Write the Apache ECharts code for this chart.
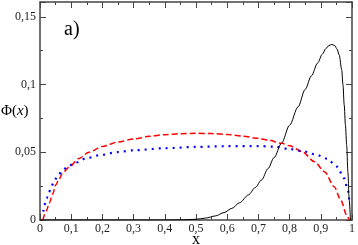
<!DOCTYPE html>
<html>
<head>
<meta charset="utf-8">
<script src="https://cdn.jsdelivr.net/npm/echarts@6/dist/echarts.min.js"></script>
<style>html,body{margin:0;padding:0;background:#fff;}#c{width:358px;height:245px;}</style>
</head>
<body>
<div id="c"></div>
<script>
var xTicks = [0, 0.1, 0.2, 0.3, 0.4, 0.5, 0.6, 0.7, 0.8, 0.9, 1];
var yTicks = [0, 0.05, 0.1, 0.15];

var redX = [0.009, 0.02, 0.03, 0.04, 0.051, 0.06, 0.072, 0.093, 0.125, 0.157, 0.2, 0.25, 0.3, 0.35, 0.4, 0.45, 0.5, 0.55, 0.6, 0.65, 0.7, 0.73, 0.775, 0.8, 0.84, 0.88, 0.912, 0.943, 0.964, 0.983, 0.991];
var redY = [0, 0.0066, 0.0125, 0.019, 0.026, 0.0298, 0.0345, 0.039, 0.0455, 0.050, 0.0543, 0.0576, 0.0598, 0.0618, 0.063, 0.0637, 0.064, 0.0638, 0.0632, 0.0619, 0.0603, 0.0591, 0.0566, 0.0548, 0.0505, 0.043, 0.0357, 0.0246, 0.0148, 0.0037, 0];

var blueX = [0.0105, 0.0137, 0.0213, 0.0286, 0.037, 0.0455, 0.058, 0.072, 0.09, 0.109, 0.146, 0.189, 0.25, 0.3, 0.4, 0.5, 0.6, 0.7, 0.75, 0.8, 0.839, 0.882, 0.92, 0.952, 0.975, 0.987, 0.991];
var blueY = [0.0061, 0.011, 0.016, 0.0205, 0.025, 0.029, 0.033, 0.0367, 0.0395, 0.0418, 0.0453, 0.0478, 0.0502, 0.0515, 0.053, 0.054, 0.0545, 0.0546, 0.0542, 0.0524, 0.051, 0.0485, 0.0453, 0.0394, 0.0308, 0.0214, 0.0153];

var blackX = [0, 0.4, 0.45, 0.5, 0.53, 0.562, 0.59, 0.615, 0.64, 0.668, 0.69, 0.71, 0.731, 0.75, 0.774, 0.8, 0.827, 0.85, 0.87, 0.89, 0.905, 0.917, 0.925, 0.935, 0.945, 0.952, 0.959, 0.967, 0.971, 0.975, 0.979, 0.983, 0.987, 0.991, 0.995];
var blackY = [0, 0, 0.0001, 0.0005, 0.0014, 0.003, 0.0055, 0.0086, 0.0128, 0.0185, 0.024, 0.0295, 0.038, 0.046, 0.0566, 0.070, 0.0835, 0.0965, 0.1065, 0.116, 0.1225, 0.1268, 0.1287, 0.1297, 0.1288, 0.1262, 0.1219, 0.111, 0.1, 0.085, 0.07, 0.055, 0.035, 0.015, 0];

function pairs(xs, ys) { return xs.map(function (x, i) { return [x, ys[i]]; }); }
function fmt(v) { return v === 0 ? '0' : String(+v.toFixed(3)).replace('.', ','); }

var FONT = 'Liberation Serif';
var AX = '#444';
function axisBase(extra) {
  var a = {
    axisLine: { show: true, onZero: false, lineStyle: { color: AX, width: 1.5 } },
    axisTick: { show: true, inside: true, length: 6, lineStyle: { color: AX, width: 1 } },
    minorTick: { show: true, splitNumber: 2, length: 3, lineStyle: { color: AX, width: 1 } },
    splitLine: { show: false },
    minorSplitLine: { show: false }
  };
  for (var k in extra) a[k] = extra[k];
  return a;
}

var chart = echarts.init(document.getElementById('c'), null, { renderer: 'canvas' });
chart.setOption({
  animation: false,
  backgroundColor: '#fff',
  grid: { left: 40, right: 3.5, top: 2, bottom: 25 },
  xAxis: [
    axisBase({ type: 'value', position: 'bottom', min: xTicks[0], max: xTicks[xTicks.length - 1], interval: 0.1,
      axisLabel: { show: true, margin: 3, fontFamily: FONT, fontSize: 12, color: '#222', formatter: fmt } }),
    axisBase({ type: 'value', position: 'top', min: 0, max: 1, interval: 0.1, axisLabel: { show: false } })
  ],
  yAxis: [
    axisBase({ type: 'value', position: 'left', min: yTicks[0], max: 0.161, interval: 0.05,
      axisLabel: { show: true, margin: 4, fontFamily: FONT, fontSize: 12, color: '#222', formatter: fmt, showMaxLabel: false } }),
    axisBase({ type: 'value', position: 'right', min: 0, max: 0.161, interval: 0.05, axisLabel: { show: false } })
  ],
  series: [
    { type: 'line', data: pairs(blackX, blackY), showSymbol: false, smooth: 0.3, smoothMonotone: 'x',
      lineStyle: { color: '#000', width: 1 }, z: 3 },
    { type: 'line', data: pairs(redX, redY), showSymbol: false, smooth: 0.3, smoothMonotone: 'x',
      lineStyle: { color: '#ff0000', width: 1.5, type: [6, 3] }, z: 2 },
    { type: 'line', data: pairs(blueX, blueY), showSymbol: false, smooth: 0.3, smoothMonotone: 'x',
      lineStyle: { color: '#0000ff', width: 2.2, type: [2, 5] }, z: 2 }
  ],
  graphic: [
    { type: 'text', left: 64, top: 20, style: { text: 'a)', font: '20px "Liberation Serif"', fill: '#000' } },
    { type: 'text', left: 1, top: 104, style: {
        text: '{n|Φ(}{i|x}{n|)}',
        rich: { n: { fontFamily: FONT, fontSize: 15, fill: '#000' }, i: { fontFamily: FONT, fontSize: 15, fontStyle: 'italic', fill: '#000' } } } },
    { type: 'text', left: 192, top: 232, style: { text: 'x', font: '16px "Liberation Serif"', fill: '#000' } }
  ]
});
</script>
</body>
</html>
